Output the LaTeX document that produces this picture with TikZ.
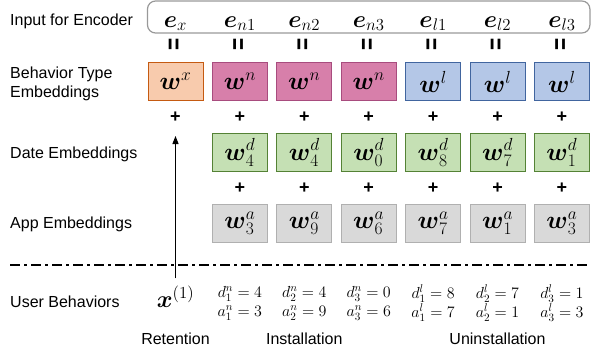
\documentclass[tikz,border=0pt]{standalone}
\usepackage{fix-cm}
\usepackage{amsmath}
\usepackage{amssymb}
\usepackage[no-math]{fontspec}
\newfontfamily\arialfont{Liberation Sans}
\usetikzlibrary{arrows.meta, positioning}
\definecolor{xfill}{HTML}{F8CBAD}
\definecolor{xline}{HTML}{C55A11}
\definecolor{nfill}{HTML}{D77FAA}
\definecolor{nline}{HTML}{A84C7E}
\definecolor{lfill}{HTML}{B4C7E7}
\definecolor{lline}{HTML}{41659F}
\definecolor{dfill}{HTML}{C5E0B4}
\definecolor{dline}{HTML}{548235}
\definecolor{afill}{HTML}{D9D9D9}
\definecolor{aline}{HTML}{B0B0B0}
\tikzset{
    emb/.style={rectangle, minimum width=55pt, minimum height=38pt, inner sep=0pt, line width=1pt, font=\fontsize{25}{27}\selectfont},
    typex/.style={emb, draw=xline, fill=xfill},
    typen/.style={emb, draw=nline, fill=nfill},
    typel/.style={emb, draw=lline, fill=lfill},
    date/.style={emb, draw=dline, fill=dfill},
    app/.style={emb, draw=aline, fill=afill},
    elabel/.style={anchor=base, inner sep=0pt, font=\fontsize{24}{26}\selectfont},
    rowlabel/.style={anchor=base west, align=left, inner sep=0pt, font=\arialfont\fontsize{16}{19}\selectfont},
    eqsign/.style={rotate=90, inner sep=0pt, font=\arialfont\bfseries\fontsize{16}{16}\selectfont},
    plussign/.style={inner sep=0pt, font=\arialfont\bfseries\fontsize{18}{18}\selectfont},
    behav/.style={align=center, inner sep=0pt, font=\fontsize{16}{19}\selectfont},
    encbox/.style={draw=black!40, line width=1.2pt, rounded corners=8pt},
    sepline/.style={line width=1.2pt, dash pattern=on 10pt off 4pt on 3pt off 4pt},
    arrow/.style={line width=1.1pt, -{Triangle[length=8pt,width=6pt]}}
}
\newcommand{\eqbar}{\scalebox{1.3}[1.6]{=}}

\begin{document}
\begin{tikzpicture}[x=1pt, y=-1pt]
    \useasboundingbox (0,0) rectangle (591,359);

    % behavior type embeddings
    \node (bt1) [typex] at (175.5,81.5) {$\boldsymbol{w}^x$};
    \node (bt2) [typen, right=8.4pt of bt1] {$\boldsymbol{w}^n$};
    \node (bt3) [typen, right=8.4pt of bt2] {$\boldsymbol{w}^n$};
    \node (bt4) [typen, right=8.4pt of bt3] {$\boldsymbol{w}^n$};
    \node (bt5) [typel, right=8.4pt of bt4] {$\boldsymbol{w}^l$};
    \node (bt6) [typel, right=8.4pt of bt5] {$\boldsymbol{w}^l$};
    \node (bt7) [typel, right=8.4pt of bt6] {$\boldsymbol{w}^l$};

    % date embeddings
    \node (dt2) [date, below=32pt of bt2] {$\boldsymbol{w}^d_4$};
    \node (dt3) [date, below=32pt of bt3] {$\boldsymbol{w}^d_4$};
    \node (dt4) [date, below=32pt of bt4] {$\boldsymbol{w}^d_0$};
    \node (dt5) [date, below=32pt of bt5] {$\boldsymbol{w}^d_8$};
    \node (dt6) [date, below=32pt of bt6] {$\boldsymbol{w}^d_7$};
    \node (dt7) [date, below=32pt of bt7] {$\boldsymbol{w}^d_1$};

    % app embeddings
    \node (ap2) [app, below=32pt of dt2] {$\boldsymbol{w}^a_3$};
    \node (ap3) [app, below=32pt of dt3] {$\boldsymbol{w}^a_9$};
    \node (ap4) [app, below=32pt of dt4] {$\boldsymbol{w}^a_6$};
    \node (ap5) [app, below=32pt of dt5] {$\boldsymbol{w}^a_7$};
    \node (ap6) [app, below=32pt of dt6] {$\boldsymbol{w}^a_1$};
    \node (ap7) [app, below=32pt of dt7] {$\boldsymbol{w}^a_3$};

    % input for encoder
    \draw [encbox] ([yshift=29pt]bt1.north west) rectangle ([yshift=61pt]bt7.north east);
    \node (e1) [elabel] at ([yshift=35pt]bt1.north) {$\boldsymbol{e}_x$};
    \node (e2) [elabel] at ([yshift=35pt]bt2.north) {$\boldsymbol{e}_{n1}$};
    \node (e3) [elabel] at ([yshift=35pt]bt3.north) {$\boldsymbol{e}_{n2}$};
    \node (e4) [elabel] at ([yshift=35pt]bt4.north) {$\boldsymbol{e}_{n3}$};
    \node (e5) [elabel] at ([yshift=35pt]bt5.north) {$\boldsymbol{e}_{l1}$};
    \node (e6) [elabel] at ([yshift=35pt]bt6.north) {$\boldsymbol{e}_{l2}$};
    \node (e7) [elabel] at ([yshift=35pt]bt7.north) {$\boldsymbol{e}_{l3}$};

    \node (eq1) [eqsign] at ([yshift=18pt]bt1.north) {\eqbar};
    \node (eq2) [eqsign] at ([yshift=18pt]bt2.north) {\eqbar};
    \node (eq3) [eqsign] at ([yshift=18pt]bt3.north) {\eqbar};
    \node (eq4) [eqsign] at ([yshift=18pt]bt4.north) {\eqbar};
    \node (eq5) [eqsign] at ([yshift=18pt]bt5.north) {\eqbar};
    \node (eq6) [eqsign] at ([yshift=18pt]bt6.north) {\eqbar};
    \node (eq7) [eqsign] at ([yshift=18pt]bt7.north) {\eqbar};

    \node (pa1) [plussign] at ([yshift=-16pt]bt1.south) {+};
    \node (pa2) [plussign] at ([yshift=-16pt]bt2.south) {+};
    \node (pa3) [plussign] at ([yshift=-16pt]bt3.south) {+};
    \node (pa4) [plussign] at ([yshift=-16pt]bt4.south) {+};
    \node (pa5) [plussign] at ([yshift=-16pt]bt5.south) {+};
    \node (pa6) [plussign] at ([yshift=-16pt]bt6.south) {+};
    \node (pa7) [plussign] at ([yshift=-16pt]bt7.south) {+};

    \node (pb2) [plussign] at ([yshift=-16pt]dt2.south) {+};
    \node (pb3) [plussign] at ([yshift=-16pt]dt3.south) {+};
    \node (pb4) [plussign] at ([yshift=-16pt]dt4.south) {+};
    \node (pb5) [plussign] at ([yshift=-16pt]dt5.south) {+};
    \node (pb6) [plussign] at ([yshift=-16pt]dt6.south) {+};
    \node (pb7) [plussign] at ([yshift=-16pt]dt7.south) {+};

    % row labels
    \node (lenc) [rowlabel] at (10,25) {Input for Encoder};
    \node (ltype) [rowlabel, anchor=west] at (10,83.5) {Behavior Type\\Embeddings};
    \node (ldate) [rowlabel] at (10,158) {Date Embeddings};
    \node (lapp) [rowlabel] at (10,228) {App Embeddings};
    \node (luser) [rowlabel] at (10,307) {User Behaviors};

    \draw [sepline] (10,265) -- (591,265);

    % user behaviors
    \coordinate (ub) at (0,307);
    \coordinate (uc) at (0,303);
    \coordinate (ul) at (0,344);
    \coordinate (tip) at (175.5,136);
    \node (x1) [elabel] at (bt1 |- ub) {$\boldsymbol{x}^{(1)}$};
    \node (b2) [behav] at (bt2 |- uc) {$d_1^n = 4$\\$a_1^n = 3$};
    \node (b3) [behav] at (bt3 |- uc) {$d_2^n = 4$\\$a_2^n = 9$};
    \node (b4) [behav] at (bt4 |- uc) {$d_3^n = 0$\\$a_3^n = 6$};
    \node (b5) [behav] at (bt5 |- uc) {$d_1^l = 8$\\$a_1^l = 7$};
    \node (b6) [behav] at (bt6 |- uc) {$d_2^l = 7$\\$a_2^l = 1$};
    \node (b7) [behav] at (bt7 |- uc) {$d_3^l = 1$\\$a_3^l = 3$};

    \node (lret) [rowlabel, anchor=base] at (bt1 |- ul) {Retention};
    \node (lins) [rowlabel, anchor=base] at (bt3 |- ul) {Installation};
    \node (luni) [rowlabel, anchor=base] at (bt6 |- ul) {Uninstallation};

    \draw [arrow, shorten <=7pt] (x1.north) -- (tip);
\end{tikzpicture}
\end{document}
